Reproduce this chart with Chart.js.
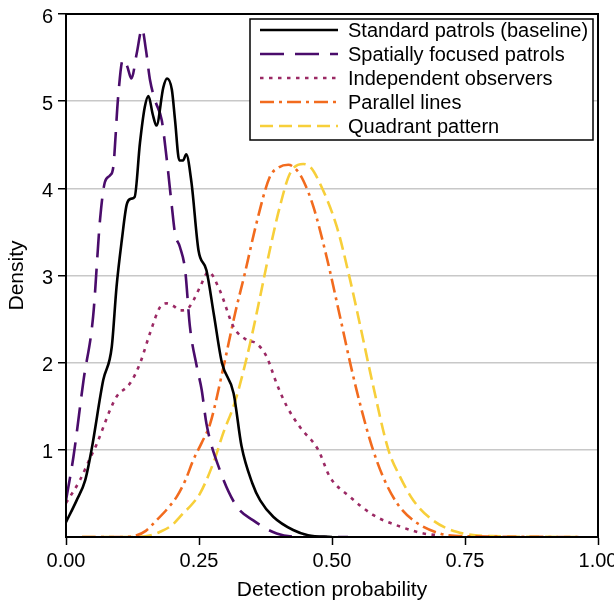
<!DOCTYPE html>
<html>
<head>
<meta charset="utf-8">
<script src="https://cdn.jsdelivr.net/npm/chart.js@4.4.1/dist/chart.umd.min.js"></script>
<style>
  body { margin: 0; background: #fff; }
  #wrap { width: 614px; height: 603px; }
</style>
</head>
<body>
<div id="wrap"><canvas id="densityChart" width="614" height="603"></canvas></div>
<script>
const FONT = '"Liberation Sans", Arial, Helvetica, sans-serif';

// x ticks / y ticks
const xTicks = [0, 0.25, 0.5, 0.75, 1];
const yTicks = [1, 2, 3, 4, 5, 6];

const seriesNames = [
  'Standard patrols (baseline)',
  'Spatially focused patrols',
  'Independent observers',
  'Parallel lines',
  'Quadrant pattern'
];

// Standard patrols (baseline)
const stdX = [0, 0.02, 0.036, 0.048, 0.07, 0.086, 0.095, 0.105, 0.114, 0.122, 0.129, 0.139, 0.148, 0.155, 0.163, 0.17, 0.183, 0.19, 0.199, 0.205, 0.213, 0.22, 0.226, 0.236, 0.249, 0.264, 0.278, 0.293, 0.315, 0.33, 0.35, 0.365, 0.39, 0.427, 0.455, 0.5];
const stdY = [0.17, 0.42, 0.65, 1.0, 1.8, 2.18, 2.87, 3.41, 3.81, 3.88, 3.9, 4.52, 4.93, 5.06, 4.85, 4.72, 5.16, 5.26, 5.13, 4.78, 4.32, 4.32, 4.39, 4.06, 3.29, 3.06, 2.55, 2.0, 1.65, 1.04, 0.62, 0.42, 0.23, 0.08, 0.02, 0];

// Spatially focused patrols
const focX = [0, 0.014, 0.033, 0.051, 0.064, 0.073, 0.083, 0.089, 0.098, 0.107, 0.115, 0.123, 0.133, 0.143, 0.15, 0.158, 0.168, 0.18, 0.19, 0.199, 0.205, 0.214, 0.224, 0.233, 0.246, 0.255, 0.264, 0.289, 0.321, 0.352, 0.396, 0.45, 0.53];
const focY = [0.42, 0.92, 1.8, 2.53, 3.64, 4.07, 4.15, 4.25, 5.05, 5.48, 5.4, 5.26, 5.55, 5.83, 5.6, 5.24, 5.0, 4.78, 4.3, 3.79, 3.48, 3.33, 3.06, 2.41, 1.95, 1.69, 1.3, 0.77, 0.35, 0.19, 0.04, 0.0, 0];

// Independent observers
const obsX = [0, 0.026, 0.045, 0.058, 0.083, 0.095, 0.12, 0.139, 0.158, 0.177, 0.19, 0.202, 0.215, 0.227, 0.24, 0.252, 0.268, 0.289, 0.315, 0.34, 0.358, 0.377, 0.396, 0.415, 0.44, 0.474, 0.496, 0.534, 0.578, 0.628, 0.672, 0.7];
const obsY = [0.39, 0.65, 0.9, 1.07, 1.46, 1.61, 1.76, 1.99, 2.34, 2.64, 2.68, 2.65, 2.6, 2.61, 2.72, 2.87, 3.04, 2.83, 2.41, 2.26, 2.22, 2.07, 1.76, 1.5, 1.26, 1.0, 0.69, 0.46, 0.25, 0.12, 0.04, 0.02];

// Parallel lines
const parX = [0.03, 0.1, 0.133, 0.15, 0.17, 0.19, 0.208, 0.225, 0.239, 0.255, 0.271, 0.296, 0.318, 0.336, 0.358, 0.383, 0.4, 0.418, 0.435, 0.446, 0.465, 0.49, 0.515, 0.537, 0.556, 0.575, 0.596, 0.622, 0.653, 0.703, 0.75, 0.97];
const parY = [0, 0, 0.02, 0.07, 0.19, 0.32, 0.46, 0.66, 0.88, 1.08, 1.3, 1.95, 2.57, 3.02, 3.6, 4.13, 4.24, 4.27, 4.2, 4.09, 3.79, 3.21, 2.53, 1.92, 1.45, 1.04, 0.69, 0.39, 0.19, 0.04, 0.01, 0];

// Quadrant pattern
const quaX = [0.03, 0.12, 0.16, 0.177, 0.2, 0.22, 0.236, 0.252, 0.277, 0.296, 0.315, 0.327, 0.346, 0.365, 0.383, 0.402, 0.421, 0.446, 0.46, 0.477, 0.509, 0.534, 0.556, 0.575, 0.606, 0.628, 0.653, 0.69, 0.734, 0.8, 0.97];
const quaY = [0, 0, 0.02, 0.06, 0.14, 0.27, 0.37, 0.5, 0.85, 1.2, 1.5, 1.75, 2.22, 2.76, 3.29, 3.79, 4.17, 4.28, 4.24, 4.06, 3.56, 2.95, 2.34, 1.8, 1.0, 0.69, 0.42, 0.19, 0.06, 0.01, 0];

const colors = ['#000000', '#4a0c6b', '#9b2964', '#f26b1e', '#f7cf3a'];
const dashes = [[], [24, 11], [3.5, 5.5], [14, 5, 3, 5], [13, 6]];

function pts(xs, ys) {
  return xs.map((x, i) => ({ x: x, y: ys[i] }));
}

const allX = [stdX, focX, obsX, parX, quaX];
const allY = [stdY, focY, obsY, parY, quaY];

const datasets = seriesNames.map((name, i) => ({
  label: name,
  data: pts(allX[i], allY[i]),
  borderColor: colors[i],
  borderDash: dashes[i],
  borderWidth: 2.6,
  pointRadius: 0,
  fill: false,
  tension: 0.4,
  cubicInterpolationMode: 'monotone'
}));

// box round the plot
const framePlugin = {
  id: 'frame',
  afterDatasetsDraw(chart) {
    const { ctx, chartArea: a } = chart;
    ctx.save();
    ctx.strokeStyle = '#000';
    ctx.lineWidth = 2;
    ctx.strokeRect(a.left, a.top, a.right - a.left, a.bottom - a.top);
    ctx.restore();
  }
};

// legend box in the top right corner
const legendPlugin = {
  id: 'boxLegend',
  afterDraw(chart) {
    const { ctx, chartArea: a } = chart;
    const left = a.left + 184, top = a.top + 5;
    const w = 343, h = 121;
    ctx.save();
    ctx.fillStyle = '#fff';
    ctx.fillRect(left, top, w, h);
    ctx.strokeStyle = '#000';
    ctx.lineWidth = 1.5;
    ctx.strokeRect(left, top, w, h);
    chart.data.datasets.forEach((ds, i) => {
      const y = top + 11 + i * 24;
      ctx.beginPath();
      ctx.strokeStyle = ds.borderColor;
      ctx.lineWidth = ds.borderWidth;
      ctx.setLineDash(ds.borderDash);
      ctx.moveTo(left + 10, y);
      ctx.lineTo(left + 88, y);
      ctx.stroke();
      ctx.setLineDash([]);
      ctx.fillStyle = '#000';
      ctx.font = '20px ' + FONT;
      ctx.textBaseline = 'middle';
      ctx.fillText(ds.label, left + 98, y + 1);
    });
    ctx.restore();
  }
};

new Chart(document.getElementById('densityChart'), {
  type: 'line',
  data: { datasets: datasets },
  options: {
    responsive: false,
    animation: false,
    layout: { padding: { top: 14, right: 16, left: 0, bottom: 0 } },
    plugins: { legend: { display: false }, tooltip: { enabled: false } },
    scales: {
      x: {
        type: 'linear',
        min: 0,
        max: 1,
        afterBuildTicks: s => { s.ticks = xTicks.map(v => ({ value: v })); },
        afterFit: s => { s.height = 66; s.paddingLeft = 0; s.paddingRight = 0; },
        ticks: {
          callback: v => v.toFixed(2),
          color: '#000',
          font: { size: 20, family: FONT },
          padding: 4,
          maxRotation: 0
        },
        grid: { drawOnChartArea: false, tickColor: '#000', tickLength: 8, tickWidth: 1.5 },
        border: { color: '#000', width: 2 },
        title: {
          display: true,
          text: 'Detection probability',
          color: '#000',
          font: { size: 21, family: FONT },
          padding: { top: 0, bottom: 0 }
        }
      },
      y: {
        type: 'linear',
        min: 0,
        max: 6,
        afterBuildTicks: s => { s.ticks = yTicks.map(v => ({ value: v })); },
        afterFit: s => { s.width = 66; s.paddingTop = 0; s.paddingBottom = 0; },
        ticks: {
          color: '#000',
          font: { size: 20, family: FONT },
          padding: 5,
          labelOffset: 3
        },
        grid: {
          color: c => (c.tick && c.tick.value < 6) ? '#c8c8c8' : 'rgba(0,0,0,0)',
          lineWidth: 1.5,
          tickColor: '#000',
          tickLength: 8,
          tickWidth: 1.5
        },
        border: { color: '#000', width: 2 },
        title: {
          display: true,
          text: 'Density',
          color: '#000',
          font: { size: 21, family: FONT },
          padding: { top: 5, bottom: 0 }
        }
      }
    }
  },
  plugins: [framePlugin, legendPlugin]
});
</script>
</body>
</html>
